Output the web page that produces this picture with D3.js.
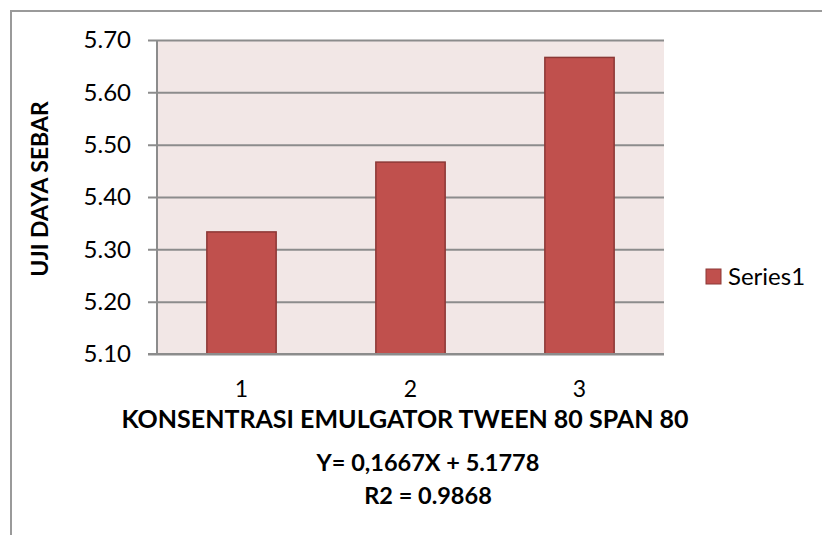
<!DOCTYPE html>
<html>
<head>
<meta charset="utf-8">
<script src="https://cdn.jsdelivr.net/npm/d3@7"></script>
<style>
  body { margin: 0; background: #fff; }
  svg text { font-family: Lato, "Open Sans", sans-serif; fill: #000; }
</style>
</head>
<body>
<svg id="chart"></svg>
<script>
// Data
const categories = ['1', '2', '3'];
const values = [5.3333, 5.4667, 5.6667];
const yTicks = [5.10, 5.20, 5.30, 5.40, 5.50, 5.60, 5.70];
const seriesName = 'Series1';
const xTitle = 'KONSENTRASI EMULGATOR TWEEN 80 SPAN 80';
const equationLines = ['Y= 0,1667X + 5.1778', 'R2 = 0.9868'];
const yTitle = 'UJI DAYA SEBAR';

const width = 822, height = 535;
const margin = { top: 40, right: 158, bottom: 181, left: 157 };
const innerW = width - margin.left - margin.right;
const innerH = height - margin.top - margin.bottom;

const svg = d3.select('#chart')
  .attr('width', width)
  .attr('height', height);

// outer chart frame (runs off the bottom and right of the picture)
svg.append('rect')
  .attr('x', 11)
  .attr('y', 11)
  .attr('width', width)
  .attr('height', height)
  .attr('fill', 'none')
  .attr('stroke', '#9a9a9a')
  .attr('stroke-width', 2);

const chart = svg.append('g')
  .attr('transform', `translate(${margin.left},${margin.top})`);

const x = d3.scaleBand()
  .domain(categories)
  .range([0, innerW])
  .paddingInner(0.59)
  .paddingOuter(0.295);

const y = d3.scaleLinear()
  .domain([5.10, 5.70])
  .range([innerH, 0]);

// plot background
chart.append('rect')
  .attr('width', innerW)
  .attr('height', innerH)
  .attr('fill', '#f2e7e6');

// gridlines + ticks
const yAxis = d3.axisLeft(y)
  .tickValues(yTicks)
  .tickFormat(d3.format('.2f'))
  .tickSize(-innerW - 9);

const yAxisG = chart.append('g')
  .call(yAxis);
yAxisG.select('.domain').remove();
yAxisG.selectAll('.tick line')
  .attr('x1', -9)
  .attr('x2', innerW)
  .attr('stroke', '#8c8c8c')
  .attr('stroke-width', 2);
yAxisG.selectAll('.tick text')
  .attr('x', -26)
  .style('font-size', '24px')
  .style('font-family', 'Lato, sans-serif');

// vertical axis line
chart.append('line')
  .attr('x1', 0).attr('x2', 0)
  .attr('y1', 0).attr('y2', innerH)
  .attr('stroke', '#8c8c8c')
  .attr('stroke-width', 2);

// bars
chart.selectAll('.bar')
  .data(values)
  .join('rect')
  .attr('class', 'bar')
  .attr('x', (d, i) => x(categories[i]))
  .attr('y', d => y(d))
  .attr('width', x.bandwidth())
  .attr('height', d => innerH - y(d))
  .attr('fill', '#c0504d')
  .attr('stroke', '#8c3836')
  .attr('stroke-width', 1.5);

// bottom axis line over the bars
chart.append('line')
  .attr('x1', -9).attr('x2', innerW)
  .attr('y1', innerH).attr('y2', innerH)
  .attr('stroke', '#8c8c8c')
  .attr('stroke-width', 2);

// category labels
chart.selectAll('.cat-label')
  .data(categories)
  .join('text')
  .attr('class', 'cat-label')
  .attr('x', d => x(d) + x.bandwidth() / 2)
  .attr('y', innerH + 43)
  .attr('text-anchor', 'middle')
  .style('font-size', '23px')
  .text(d => d);

// x title and equation
svg.append('text')
  .attr('x', 405)
  .attr('y', 428)
  .attr('text-anchor', 'middle')
  .style('font-size', '25px')
  .style('font-weight', 'bold')
  .text(xTitle);

svg.selectAll('.eq')
  .data(equationLines)
  .join('text')
  .attr('class', 'eq')
  .attr('x', 428)
  .attr('y', (d, i) => 471 + i * 33)
  .attr('text-anchor', 'middle')
  .style('font-size', '23.5px')
  .style('font-weight', 'bold')
  .text(d => d);

// y title
svg.append('text')
  .attr('transform', 'translate(48,189) rotate(-90)')
  .attr('text-anchor', 'middle')
  .style('font-size', '23px')
  .style('font-weight', 'bold')
  .text(yTitle);

// legend
const legend = svg.append('g')
  .attr('transform', 'translate(706,269)');
legend.append('rect')
  .attr('width', 15)
  .attr('height', 15)
  .attr('fill', '#c0504d')
  .attr('stroke', '#8c3836')
  .attr('stroke-width', 1);
legend.append('text')
  .attr('x', 22)
  .attr('y', 16)
  .style('font-size', '24px')
  .text(seriesName);
</script>
</body>
</html>
